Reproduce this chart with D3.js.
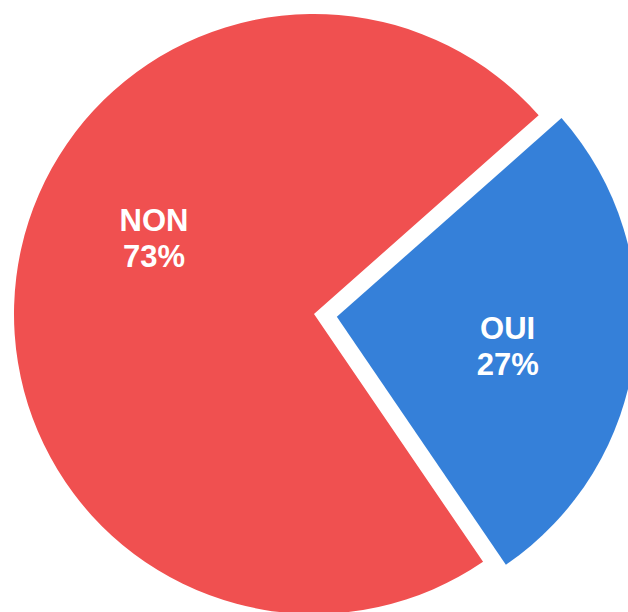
<!DOCTYPE html>
<meta charset="utf-8">
<script src="https://d3js.org/d3.v7.min.js"></script>
<style>
body { margin: 0; background: #fff; }
.label {
    fill: #fff;
    font: bold 31px "Liberation Sans", Arial, sans-serif;
    text-anchor: middle;
}
</style>
<body>
<script>
var categories = ['NON', 'OUI'];
var values = [73, 27];
var colors = ['#F05050', '#3580D9'];

var w = 628, h = 612;
var cx = 314, cy = 314, radius = 300;
var explode = {OUI: 23};
// label placement (polar, clockwise from 12 o'clock, relative to each slice's own centre)
var labelPlace = {NON: {angle: 296, r: 178}, OUI: {angle: 99, r: 173}};

var svg = d3.select('body')
    .append('svg')
    .attr('width', w)
    .attr('height', h);

var rows = categories.map(function(c, i) { return {name: c, value: values[i], color: colors[i]}; });

var pie = d3.pie()
    .sort(null)
    .value(function(d) { return d.value; })
    .startAngle(145.7 * Math.PI / 180)
    .endAngle(145.7 * Math.PI / 180 + 2 * Math.PI);

var arc = d3.arc().innerRadius(0).outerRadius(radius);

var total = d3.sum(values);

var g = svg.append('g')
    .attr('transform', 'translate(' + cx + ',' + cy + ')');

var slices = g.selectAll('g.slice')
    .data(pie(rows))
    .enter()
    .append('g')
    .attr('class', 'slice')
    .attr('transform', function(d) {
        var off = explode[d.data.name] || 0;
        var a = (d.startAngle + d.endAngle) / 2;
        return 'translate(' + (off * Math.sin(a)) + ',' + (-off * Math.cos(a)) + ')';
    });

slices.append('path')
    .attr('d', arc)
    .attr('fill', function(d) { return d.data.color; });

slices.each(function(d) {
    var p = labelPlace[d.data.name];
    var a = p.angle * Math.PI / 180;
    var x = p.r * Math.sin(a), y = -p.r * Math.cos(a);
    var t = d3.select(this).append('text')
        .attr('class', 'label')
        .attr('x', x)
        .attr('y', y);
    t.append('tspan')
        .attr('x', x)
        .attr('dy', -5)
        .text(d.data.name);
    t.append('tspan')
        .attr('x', x)
        .attr('dy', 36)
        .text(Math.round(d.data.value / total * 100) + '%');
});
</script>
</body>
